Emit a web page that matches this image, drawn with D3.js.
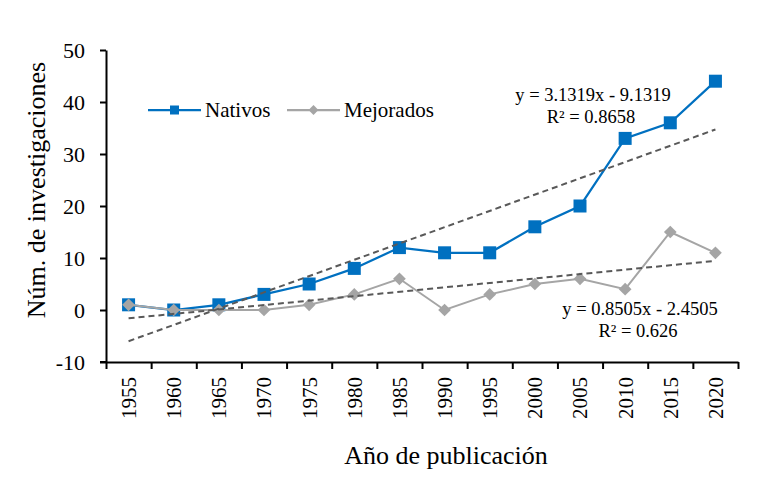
<!DOCTYPE html>
<html>
<head>
<meta charset="utf-8">
<script src="https://cdn.jsdelivr.net/npm/d3@7"></script>
<style>
  body { margin: 0; background: #fff; }
</style>
</head>
<body>
<svg id="chart"></svg>
<script>
var width = 760;
var height = 497;

// DATA
var years = [1955, 1960, 1965, 1970, 1975, 1980, 1985, 1990, 1995, 2000, 2005, 2010, 2015, 2020];
var nativos = [1, 0, 1, 3, 5, 8, 12, 11, 11, 16, 20, 33, 36, 44];
var mejorados = [1, 0, 0, 0, 1, 3, 6, 0, 3, 5, 6, 4, 15, 11];
var yTicks = [-10, 0, 10, 20, 30, 40, 50];
// trend lines as printed on the chart (x = 1..n)
var trendNativos = { slope: 3.1319, intercept: -9.1319, label: "y = 3.1319x - 9.1319", r2: "R² = 0.8658" };
var trendMejorados = { slope: 0.8505, intercept: -2.4505, label: "y = 0.8505x - 2.4505", r2: "R² = 0.626" };

var plotLeft = 106, plotRight = 738, plotTop = 50, plotBottom = 362;
var blue = "#0070C0", grey = "#A5A5A5", dark = "#595959";
var serif = "'Liberation Serif', 'Times New Roman', Tinos, 'DejaVu Serif', serif";

var svg = d3.select("#chart").attr("width", width).attr("height", height);

var x = d3.scaleBand().domain(years).range([plotLeft, plotRight]).padding(0);
var xEdge = d3.scaleLinear().domain([0, years.length]).range([plotLeft, plotRight]);
var y = d3.scaleLinear().domain([-10, 50]).range([plotBottom, plotTop]);
var cx = (d) => x(d) + x.bandwidth() / 2;

// Y AXIS
var yAxis = svg.append("g")
  .attr("transform", `translate(${plotLeft}, 0)`)
  .call(d3.axisLeft(y).tickValues(yTicks).tickFormat((d) => String(d)).tickSize(6).tickPadding(15).tickSizeOuter(0));
yAxis.selectAll("text").style("font-size", "22px");

// X AXIS - ticks at category edges
var xAxis = svg.append("g")
  .attr("transform", `translate(0, ${plotBottom})`)
  .call(d3.axisBottom(xEdge).tickValues(d3.range(years.length + 1)).tickFormat("").tickSize(7).tickSizeOuter(0));
svg.append("line")
  .attr("x1", plotLeft - 6).attr("x2", plotLeft)
  .attr("y1", plotBottom).attr("y2", plotBottom)
  .attr("stroke", "#000").attr("stroke-width", 2);

// X labels, rotated
var xLabels = svg.append("g")
  .attr("transform", `translate(0, ${plotBottom})`)
  .call(d3.axisBottom(x).tickSize(0));
xLabels.select(".domain").remove();
xLabels.selectAll("text")
  .attr("transform", "rotate(-90)")
  .attr("x", -15)
  .attr("y", 0)
  .attr("dy", "0.35em")
  .style("text-anchor", "end")
  .style("font-size", "21px");

svg.selectAll(".domain, .tick line").attr("stroke", "#000").attr("stroke-width", 2);

// SERIES
var line = (vals) => d3.line().x((d, i) => cx(years[i])).y((d) => y(d))(vals);

svg.append("path")
  .attr("d", line(nativos))
  .attr("fill", "none")
  .attr("stroke", blue)
  .attr("stroke-width", 2.25);

svg.selectAll(".sq")
  .data(nativos)
  .enter()
  .append("rect")
  .attr("x", (d, i) => cx(years[i]) - 6.5)
  .attr("y", (d) => y(d) - 6.5)
  .attr("width", 13)
  .attr("height", 13)
  .attr("fill", blue);

svg.append("path")
  .attr("d", line(mejorados))
  .attr("fill", "none")
  .attr("stroke", grey)
  .attr("stroke-width", 2);

svg.selectAll(".dm")
  .data(mejorados)
  .enter()
  .append("rect")
  .attr("x", -4.5)
  .attr("y", -4.5)
  .attr("width", 9)
  .attr("height", 9)
  .attr("transform", (d, i) => `translate(${cx(years[i])}, ${y(d)}) rotate(45)`)
  .attr("fill", grey);

// TREND LINES
[trendNativos, trendMejorados].forEach(function (t) {
  svg.append("line")
    .attr("x1", cx(years[0]))
    .attr("y1", y(t.slope * 1 + t.intercept))
    .attr("x2", cx(years[years.length - 1]))
    .attr("y2", y(t.slope * years.length + t.intercept))
    .attr("stroke", dark)
    .attr("stroke-width", 2)
    .attr("stroke-dasharray", "6,4");
});

function eq(t, ex, ey) {
  svg.append("text").attr("x", ex).attr("y", ey)
    .style("text-anchor", "middle").style("font-size", "18.5px").text(t.label);
  svg.append("text").attr("x", ex - 2).attr("y", ey + 22)
    .style("text-anchor", "middle").style("font-size", "18.5px").text(t.r2);
}
eq(trendNativos, 593, 101);
eq(trendMejorados, 640, 315);

// LEGEND
var legend = [
  { name: "Nativos", color: blue, x0: 148, shape: "square" },
  { name: "Mejorados", color: grey, x0: 287, shape: "diamond" },
];
legend.forEach(function (l) {
  var g = svg.append("g").attr("transform", `translate(${l.x0}, 110)`);
  g.append("line").attr("x1", 0).attr("x2", 53).attr("stroke", l.color).attr("stroke-width", 2.25);
  if (l.shape === "square") {
    g.append("rect").attr("x", 22).attr("y", -4.5).attr("width", 9).attr("height", 9).attr("fill", l.color);
  } else {
    g.append("rect").attr("x", -3.5).attr("y", -3.5).attr("width", 7).attr("height", 7)
      .attr("transform", "translate(26.5, 0) rotate(45)").attr("fill", l.color);
  }
  g.append("text").attr("x", 57).attr("dy", "0.35em").style("font-size", "21px").text(l.name);
});

// AXIS TITLES
svg.append("text")
  .attr("x", 446)
  .attr("y", 464)
  .style("text-anchor", "middle")
  .style("font-size", "26px")
  .text("Año de publicación");

svg.append("text")
  .attr("transform", "rotate(-90)")
  .attr("x", -190)
  .attr("y", 45)
  .style("text-anchor", "middle")
  .style("font-size", "26px")
  .text("Núm. de investigaciones");

// all text in Times-like serif, black
svg.selectAll("text").style("font-family", serif).attr("fill", "#000");
</script>
</body>
</html>
